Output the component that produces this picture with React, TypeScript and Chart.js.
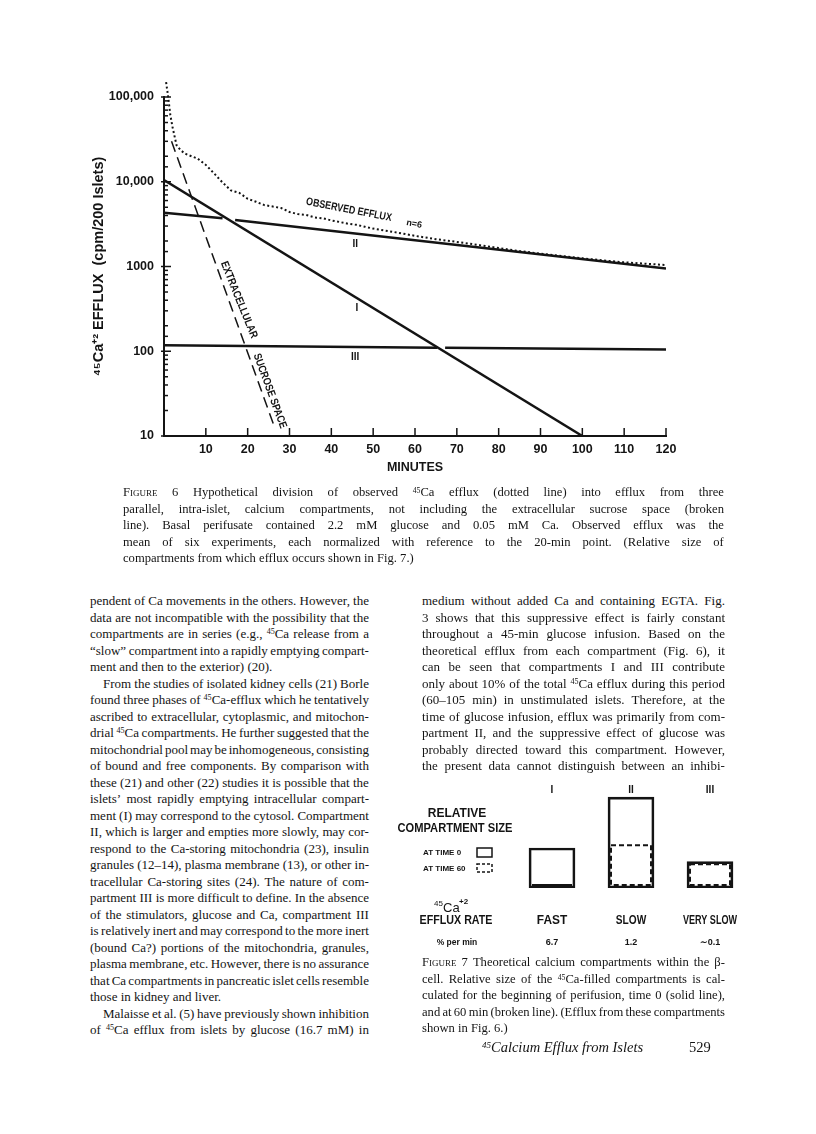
import React, { useEffect, useRef } from 'react';
import { Chart, registerables } from 'chart.js';

Chart.register(...registerables);

// ---------- Figure 6 data (minutes vs 45Ca efflux, cpm/200 islets) ----------
const observedMinutes = [0.5, 1, 1.5, 2, 3, 4, 5, 6, 8, 10, 12, 14, 16, 18, 20, 22, 24, 26, 28, 30, 32, 34, 36, 38, 40, 42, 44, 46, 48, 50, 55, 60, 65, 70, 75, 80, 85, 90, 95, 100, 105, 110, 115, 120];
const observedEfflux = [150000, 100000, 62000, 45000, 27000, 23500, 21500, 20500, 18800, 15800, 12500, 9800, 7900, 7400, 6300, 5800, 5300, 5100, 4900, 4400, 4150, 4050, 3800, 3700, 3500, 3350, 3200, 3100, 2950, 2800, 2550, 2300, 2100, 1950, 1800, 1650, 1520, 1420, 1330, 1250, 1180, 1120, 1080, 1040];

const compartmentIMinutes = [0, 100];
const compartmentIEfflux = [10500, 10];
const compartmentIIMinutes = [0, 14, 15.5, 17, 120];
const compartmentIIEfflux = [4300, 3700, null, 3540, 950];
const compartmentIIIMinutes = [0, 65.3, 66.2, 67.2, 120];
const compartmentIIIEfflux = [118, 110, null, 110, 105];
const sucroseMinutes = [1.8, 26.6];
const sucroseEfflux = [30000, 12];

const xTickStep = 10;
const yMajorTickLabels: Record<string, string> = { '10': '10', '100': '100', '1000': '1000', '10000': '10,000', '100000': '100,000' };

// ---------- Figure 7 data ----------
const compartmentNames = ['I', 'II', 'III'];
const relativeSizeAtTime0 = [44, 100, 29];
const relativeSizeAtTime60 = [1.5, 47, 26];
const effluxRateNames = ['FAST', 'SLOW', 'VERY SLOW'];
const effluxPercentPerMin = ['6.7', '1.2', '\u223C0.1'];

// ---------- Text ----------
const caption6Lines = [
  'FIGURE 6 Hypothetical division of observed ⁴⁵Ca efflux (dotted line) into efflux from three',
  'parallel, intra-islet, calcium compartments, not including the extracellular sucrose space (broken',
  'line). Basal perifusate contained 2.2 mM glucose and 0.05 mM Ca. Observed efflux was the',
  'mean of six experiments, each normalized with reference to the 20-min point. (Relative size of',
  'compartments from which efflux occurs shown in Fig. 7.)',
];
const leftColumnLines = [
  'pendent of Ca movements in the others. However, the',
  'data are not incompatible with the possibility that the',
  'compartments are in series (e.g., ⁴⁵Ca release from a',
  '\u201Cslow\u201D compartment into a rapidly emptying compart-',
  'ment and then to the exterior) (20).',
  'From the studies of isolated kidney cells (21) Borle',
  'found three phases of ⁴⁵Ca-efflux which he tentatively',
  'ascribed to extracellular, cytoplasmic, and mitochon-',
  'drial ⁴⁵Ca compartments. He further suggested that the',
  'mitochondrial pool may be inhomogeneous, consisting',
  'of bound and free components. By comparison with',
  'these (21) and other (22) studies it is possible that the',
  'islets\u2019 most rapidly emptying intracellular compart-',
  'ment (I) may correspond to the cytosol. Compartment',
  'II, which is larger and empties more slowly, may cor-',
  'respond to the Ca-storing mitochondria (23), insulin',
  'granules (12\u201314), plasma membrane (13), or other in-',
  'tracellular Ca-storing sites (24). The nature of com-',
  'partment III is more difficult to define. In the absence',
  'of the stimulators, glucose and Ca, compartment III',
  'is relatively inert and may correspond to the more inert',
  '(bound Ca?) portions of the mitochondria, granules,',
  'plasma membrane, etc. However, there is no assurance',
  'that Ca compartments in pancreatic islet cells resemble',
  'those in kidney and liver.',
  'Malaisse et al. (5) have previously shown inhibition',
  'of ⁴⁵Ca efflux from islets by glucose (16.7 mM) in',
];
const leftParagraphEnds = [4, 24];
const leftIndents = [5, 25];
const rightColumnLines = [
  'medium without added Ca and containing EGTA. Fig.',
  '3 shows that this suppressive effect is fairly constant',
  'throughout a 45-min glucose infusion. Based on the',
  'theoretical efflux from each compartment (Fig. 6), it',
  'can be seen that compartments I and III contribute',
  'only about 10% of the total ⁴⁵Ca efflux during this period',
  '(60\u2013105 min) in unstimulated islets. Therefore, at the',
  'time of glucose infusion, efflux was primarily from com-',
  'partment II, and the suppressive effect of glucose was',
  'probably directed toward this compartment. However,',
  'the present data cannot distinguish between an inhibi-',
];
const caption7Lines = [
  'FIGURE 7 Theoretical calcium compartments within the \u03B2-',
  'cell. Relative size of the ⁴⁵Ca-filled compartments is cal-',
  'culated for the beginning of perifusion, time 0 (solid line),',
  'and at 60 min (broken line). (Efflux from these compartments',
  'shown in Fig. 6.)',
];

const SANS = '"Liberation Sans", Arial, sans-serif';
const INK = '#141414';

const pts = (xs: number[], ys: (number | null)[]) => xs.map((x, i) => ({ x, y: ys[i] }));

const isMajor = (v: number) => {
  const e = Math.log10(v);
  return Math.abs(e - Math.round(e)) < 1e-9;
};

const inwardTicks = {
  id: 'inwardTicks',
  afterDraw(chart: any) {
    const { ctx, chartArea, scales } = chart;
    const x = scales.x;
    const y = scales.y;
    ctx.save();
    ctx.strokeStyle = INK;
    ctx.lineWidth = 1.5;
    x.ticks.forEach((tk: any) => {
      if (tk.value === 0) return;
      const px = x.getPixelForValue(tk.value);
      ctx.beginPath();
      ctx.moveTo(px, chartArea.bottom);
      ctx.lineTo(px, chartArea.bottom - 8);
      ctx.stroke();
    });
    y.ticks.forEach((tk: any) => {
      const py = y.getPixelForValue(tk.value);
      const major = isMajor(tk.value);
      ctx.beginPath();
      ctx.moveTo(chartArea.left - (major ? 3 : 1), py);
      ctx.lineTo(chartArea.left + (major ? 7 : 4), py);
      ctx.stroke();
    });
    ctx.restore();
  },
};

const fig6Labels = {
  id: 'fig6Labels',
  afterDatasetsDraw(chart: any) {
    const { ctx, scales } = chart;
    const put = (text: string, t: number, v: number, rot: number, size: number, maxW?: number) => {
      ctx.save();
      ctx.translate(scales.x.getPixelForValue(t), scales.y.getPixelForValue(v));
      ctx.rotate((rot * Math.PI) / 180);
      ctx.font = `bold ${size}px ${SANS}`;
      ctx.fillStyle = INK;
      ctx.textAlign = 'center';
      ctx.textBaseline = 'middle';
      if (maxW) ctx.fillText(text, 0, 0, maxW);
      else ctx.fillText(text, 0, 0);
      ctx.restore();
    };
    put('OBSERVED EFFLUX', 44.2, 4650, 11, 11, 87);
    put('n=6', 59.8, 3170, 11, 9);
    put('II', 45.7, 1840, 0, 10);
    put('I', 46.1, 325, 0, 10);
    put('III', 45.7, 85, 0, 10);
    put('EXTRACELLULAR', 17.9, 403, 68, 11, 82);
    put('SUCROSE SPACE', 25.3, 34, 70, 11, 79);
  },
};

const dashedBoxes = {
  id: 'dashedBoxes',
  afterDatasetsDraw(chart: any) {
    const { ctx } = chart;
    const meta = chart.getDatasetMeta(1);
    ctx.save();
    ctx.strokeStyle = INK;
    ctx.lineWidth = 2;
    ctx.setLineDash([5, 3]);
    meta.data.forEach((bar: any) => {
      const { x, y, base, width } = bar.getProps(['x', 'y', 'base', 'width'], true);
      const bottom = base - 3;
      const top = Math.min(y, bottom);
      ctx.strokeRect(x - width / 2, top, width, bottom - top);
    });
    ctx.restore();
  },
};

const fig7Labels = {
  id: 'fig7Labels',
  afterDraw(chart: any) {
    const { ctx, chartArea, scales } = chart;
    const txt = (text: string, x: number, y: number, size: number, opts: { bold?: boolean; align?: CanvasTextAlign; maxW?: number } = {}) => {
      ctx.font = `${opts.bold === false ? '' : 'bold '}${size}px ${SANS}`;
      ctx.fillStyle = INK;
      ctx.textAlign = opts.align || 'center';
      ctx.textBaseline = 'middle';
      if (opts.maxW) ctx.fillText(text, x, y, opts.maxW);
      else ctx.fillText(text, x, y);
    };
    ctx.save();
    compartmentNames.forEach((name, i) => {
      const cx = scales.x.getPixelForValue(i);
      txt(name, cx, chartArea.top + 2, 10);
      txt(effluxRateNames[i], cx, chartArea.bottom + 33, 12, { maxW: effluxRateNames[i].length > 5 ? 54 : effluxRateNames[i].length * 7.6 });
      txt(effluxPercentPerMin[i], cx, chartArea.bottom + 55, 9);
    });
    // left-hand row headings
    txt('RELATIVE', 77, 44, 12, { maxW: 62 });
    txt('COMPARTMENT SIZE', 75, 59, 12, { maxW: 115 });
    txt('AT TIME 0', 43, 83, 8, { align: 'left', maxW: 44 });
    txt('AT TIME 60', 43, 99, 8, { align: 'left', maxW: 49 });
    ctx.strokeStyle = INK;
    ctx.lineWidth = 1.5;
    ctx.strokeRect(97, 78, 15, 9);
    ctx.setLineDash([3, 2]);
    ctx.strokeRect(97, 94, 15, 8);
    ctx.setLineDash([]);
    txt('45', 54, 134, 8, { align: 'left', bold: false });
    txt('Ca', 63, 138, 13, { align: 'left', bold: false });
    txt('+2', 79, 132, 8, { align: 'left' });
    txt('EFFLUX RATE', 76, 151, 12, { maxW: 73 });
    txt('% per min', 77, 173, 8.5, { maxW: 44 });
    ctx.restore();
  },
};

function Word({ w }: { w: string }) {
  if (w === 'FIGURE') return <span style={{ fontVariant: 'small-caps' }}>Figure</span>;
  const parts = w.split('⁴⁵');
  return (
    <span>
      {parts.map((p, i) => (
        <React.Fragment key={i}>
          {i > 0 && <span style={{ fontSize: '0.62em', verticalAlign: '0.45em', lineHeight: 0 }}>45</span>}
          {p}
        </React.Fragment>
      ))}
    </span>
  );
}

function TextLine({ text, x, y, width, justify, size }: { text: string; x: number; y: number; width: number; justify: boolean; size: number }) {
  const words = text.split(' ');
  return (
    <div
      style={{
        position: 'absolute', left: x, top: y - 9, width, height: 16, lineHeight: '16px', fontSize: size,
        whiteSpace: 'nowrap', display: 'flex', justifyContent: justify ? 'space-between' : 'flex-start',
      }}
    >
      {words.map((w, i) => (
        <span key={i} style={{ marginRight: justify ? 0 : '0.25em' }}>
          <Word w={w} />
        </span>
      ))}
    </div>
  );
}

export default function App() {
  const fig6Ref = useRef<HTMLCanvasElement>(null);
  const fig7Ref = useRef<HTMLCanvasElement>(null);

  useEffect(() => {
    const tickFont = { family: SANS, size: 12.5, weight: 'bold' as const };
    const c6 = new Chart(fig6Ref.current as HTMLCanvasElement, {
      type: 'line',
      data: {
        datasets: [
          { label: 'Observed efflux', data: pts(observedMinutes, observedEfflux) as any, borderColor: INK, borderWidth: 2, borderDash: [2, 2.5], pointRadius: 0, clip: false as any, spanGaps: false },
          { label: 'Compartment I', data: pts(compartmentIMinutes, compartmentIEfflux) as any, borderColor: INK, borderWidth: 2.5, pointRadius: 0, spanGaps: false },
          { label: 'Compartment II', data: pts(compartmentIIMinutes, compartmentIIEfflux) as any, borderColor: INK, borderWidth: 2.5, pointRadius: 0, spanGaps: false },
          { label: 'Compartment III', data: pts(compartmentIIIMinutes, compartmentIIIEfflux) as any, borderColor: INK, borderWidth: 2.5, pointRadius: 0, spanGaps: false },
          { label: 'Extracellular sucrose space', data: pts(sucroseMinutes, sucroseEfflux) as any, borderColor: INK, borderWidth: 1.5, borderDash: [11, 6], pointRadius: 0, spanGaps: false },
        ],
      },
      options: {
        animation: false,
        responsive: false,
        maintainAspectRatio: false,
        events: [],
        layout: { padding: { left: 0, right: 150, top: 97, bottom: 0 } },
        plugins: { legend: { display: false }, tooltip: { enabled: false } },
        scales: {
          x: {
            type: 'linear', min: 0, max: 120,
            afterFit: (s: any) => { s.height = 64; },
            border: { display: true, color: INK, width: 2 },
            grid: { display: false, drawTicks: false },
            ticks: { stepSize: xTickStep, padding: 6, color: INK, font: tickFont, maxRotation: 0, autoSkip: false, callback: (v: any) => (Number(v) === 0 ? '' : String(v)) },
            title: { display: true, text: 'MINUTES', color: INK, font: tickFont, padding: { top: 0, bottom: 25 } },
          },
          y: {
            type: 'logarithmic', min: 10, max: 100000,
            afterFit: (s: any) => { s.width = 164; },
            border: { display: true, color: INK, width: 2 },
            grid: { display: false, drawTicks: false },
            ticks: { autoSkip: false, padding: 10, color: INK, font: tickFont, callback: (v: any) => (isMajor(Number(v)) ? yMajorTickLabels[String(Math.round(Number(v)))] || '' : '') },
            title: { display: true, text: '⁴⁵Ca⁺² EFFLUX  (cpm/200 Islets)', color: INK, font: { family: SANS, size: 14.5, weight: 'bold' }, padding: { top: 90, bottom: 0 } },
          },
        },
      } as any,
      plugins: [inwardTicks, fig6Labels],
    });

    const c7 = new Chart(fig7Ref.current as HTMLCanvasElement, {
      type: 'bar',
      data: {
        labels: compartmentNames,
        datasets: [
          { label: 'At time 0', data: relativeSizeAtTime0, backgroundColor: 'rgba(0,0,0,0)', borderColor: INK, borderWidth: 2, borderSkipped: false, grouped: false, barThickness: 46 } as any,
          { label: 'At time 60', data: relativeSizeAtTime60, backgroundColor: 'rgba(0,0,0,0)', borderWidth: 0, grouped: false, barThickness: 40 } as any,
        ],
      },
      options: {
        animation: false,
        responsive: false,
        maintainAspectRatio: false,
        events: [],
        layout: { padding: { left: 132.5, right: 30.5, top: 18, bottom: 82 } },
        plugins: { legend: { display: false }, tooltip: { enabled: false } },
        scales: { x: { display: false }, y: { display: false, min: 0, max: 110 } },
      } as any,
      plugins: [dashedBoxes, fig7Labels],
    });

    return () => { c6.destroy(); c7.destroy(); };
  }, []);

  const body = 13;
  const cap = 12.6;
  const lh = 16.5;

  return (
    <div style={{ position: 'absolute', left: 0, top: 0, width: 816, height: 1134, overflow: 'hidden', background: '#fff', color: INK, fontFamily: '"Liberation Serif", "Times New Roman", serif' }}>
      <canvas ref={fig6Ref} width={816} height={500} style={{ position: 'absolute', left: 0, top: 0, width: 816, height: 500 }} />
      <canvas ref={fig7Ref} width={400} height={200} style={{ position: 'absolute', left: 380, top: 770, width: 400, height: 200 }} />
      {caption6Lines.map((t, i) => (
        <TextLine key={'c6' + i} text={t} x={123} y={493 + i * lh} width={601} justify={i < caption6Lines.length - 1} size={cap} />
      ))}
      {leftColumnLines.map((t, i) => {
        const ind = leftIndents.includes(i) ? 13 : 0;
        return <TextLine key={'l' + i} text={t} x={90 + ind} y={602 + i * lh} width={279 - ind} justify={!leftParagraphEnds.includes(i)} size={body} />;
      })}
      {rightColumnLines.map((t, i) => (
        <TextLine key={'r' + i} text={t} x={422} y={602 + i * lh} width={303} justify size={body} />
      ))}
      {caption7Lines.map((t, i) => (
        <TextLine key={'c7' + i} text={t} x={422} y={963 + i * lh} width={303} justify={i < caption7Lines.length - 1} size={cap} />
      ))}
      <div style={{ position: 'absolute', left: 482, top: 1038, fontSize: 14.5, fontStyle: 'italic', whiteSpace: 'nowrap', lineHeight: '18px' }}>
        <span style={{ fontSize: '0.62em', verticalAlign: '0.45em', lineHeight: 0 }}>45</span>Calcium Efflux from Islets
      </div>
      <div style={{ position: 'absolute', left: 689, top: 1038, fontSize: 14.5, whiteSpace: 'nowrap', lineHeight: '18px' }}>529</div>
    </div>
  );
}
